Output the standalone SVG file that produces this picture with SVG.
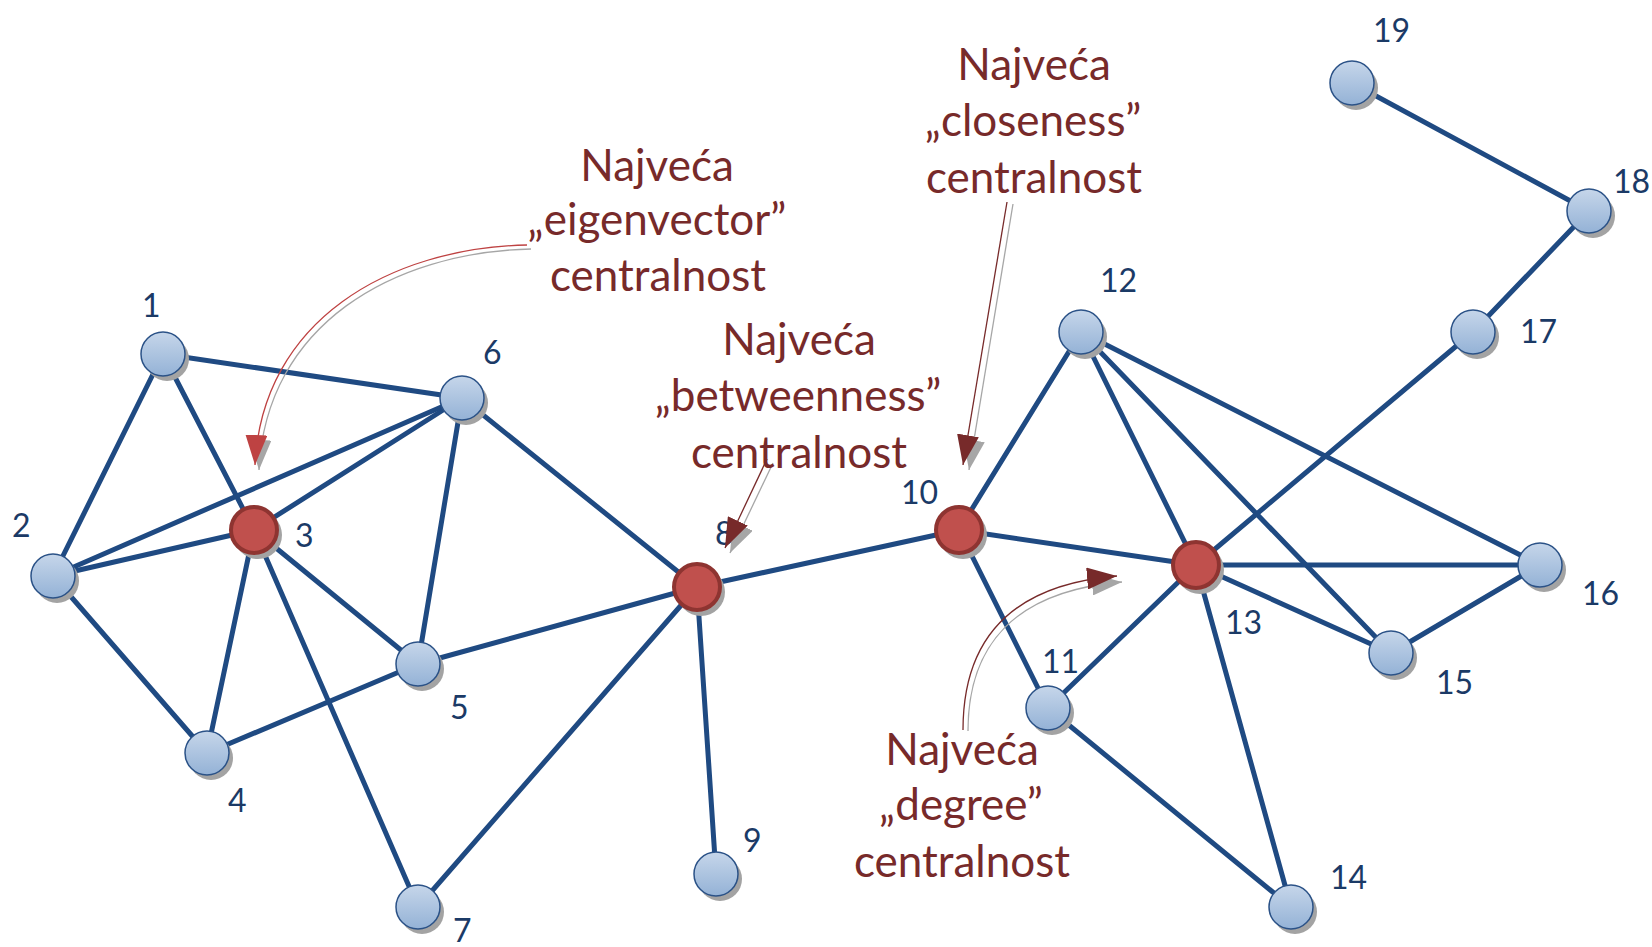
<svg xmlns="http://www.w3.org/2000/svg" width="1652" height="947" viewBox="0 0 1652 947">
<defs>
<linearGradient id="gBlue" x1="0" y1="0" x2="0" y2="1">
<stop offset="0" stop-color="#C6D6EA"/>
<stop offset="1" stop-color="#94B2D6"/>
</linearGradient>
<marker id="ahDark" viewBox="0 0 30 22" refX="30" refY="11" markerWidth="30" markerHeight="22" markerUnits="userSpaceOnUse" orient="auto"><path d="M0,0 L30,11 L0,22 Z" fill="#772A2A"/></marker>
<marker id="ahRed" viewBox="0 0 30 22" refX="30" refY="11" markerWidth="30" markerHeight="22" markerUnits="userSpaceOnUse" orient="auto"><path d="M0,0 L30,11 L0,22 Z" fill="#BE4242"/></marker>
<marker id="ahGrey" viewBox="0 0 30 22" refX="30" refY="11" markerWidth="30" markerHeight="22" markerUnits="userSpaceOnUse" orient="auto"><path d="M0,0 L30,11 L0,22 Z" fill="#A6A6A6"/></marker>
</defs>
<style>
.edge{stroke:#1F4A82;stroke-width:5;fill:none;stroke-linecap:round}
.shadow{fill:#A3A3A3}
.blue{fill:url(#gBlue);stroke:#2B5287;stroke-width:1.5}
.red{fill:#C0504D;stroke:#8E3431;stroke-width:4}
.num{font-family:Lato,"Liberation Sans",sans-serif;font-size:32px;fill:#1B3A66}
.ann{font-family:Lato,"Liberation Sans",sans-serif;font-size:44px;fill:#772A2A;text-anchor:middle}
.arr{fill:none;stroke-width:1.3}
.arrDark{stroke:#772A2A;marker-end:url(#ahDark)}
.arrRed{stroke:#BE4242;marker-end:url(#ahRed)}
.arrGrey{stroke:#A6A6A6;marker-end:url(#ahGrey)}
</style>
<rect width="1652" height="947" fill="#FFFFFF"/>
<g id="connectors">
<line class="edge" x1="163" y1="354" x2="462" y2="398"/>
<line class="edge" x1="163" y1="354" x2="53" y2="576"/>
<line class="edge" x1="163" y1="354" x2="254" y2="530"/>
<line class="edge" x1="53" y1="576" x2="462" y2="398"/>
<line class="edge" x1="53" y1="576" x2="254" y2="530"/>
<line class="edge" x1="53" y1="576" x2="207" y2="753"/>
<line class="edge" x1="254" y1="530" x2="462" y2="398"/>
<line class="edge" x1="254" y1="530" x2="207" y2="753"/>
<line class="edge" x1="254" y1="530" x2="418" y2="664"/>
<line class="edge" x1="254" y1="530" x2="418" y2="907"/>
<line class="edge" x1="462" y1="398" x2="418" y2="664"/>
<line class="edge" x1="462" y1="398" x2="697" y2="587"/>
<line class="edge" x1="418" y1="664" x2="207" y2="753"/>
<line class="edge" x1="418" y1="664" x2="697" y2="587"/>
<line class="edge" x1="418" y1="907" x2="697" y2="587"/>
<line class="edge" x1="697" y1="587" x2="716" y2="874"/>
<line class="edge" x1="697" y1="587" x2="959" y2="530"/>
<line class="edge" x1="959" y1="530" x2="1081" y2="332"/>
<line class="edge" x1="959" y1="530" x2="1196" y2="565"/>
<line class="edge" x1="959" y1="530" x2="1048" y2="708"/>
<line class="edge" x1="1081" y1="332" x2="1196" y2="565"/>
<line class="edge" x1="1081" y1="332" x2="1391" y2="653"/>
<line class="edge" x1="1081" y1="332" x2="1540" y2="565"/>
<line class="edge" x1="1196" y1="565" x2="1540" y2="565"/>
<line class="edge" x1="1196" y1="565" x2="1391" y2="653"/>
<line class="edge" x1="1196" y1="565" x2="1473" y2="332"/>
<line class="edge" x1="1196" y1="565" x2="1048" y2="708"/>
<line class="edge" x1="1196" y1="565" x2="1291" y2="907"/>
<line class="edge" x1="1048" y1="708" x2="1291" y2="907"/>
<line class="edge" x1="1391" y1="653" x2="1540" y2="565"/>
<line class="edge" x1="1473" y1="332" x2="1589" y2="211"/>
<line class="edge" x1="1589" y1="211" x2="1352" y2="83"/>
</g>
<g id="node1"><circle class="shadow" cx="167" cy="359" r="22"/><circle class="blue" cx="163" cy="354" r="22"/><text class="num" x="142" y="317">1</text></g>
<g id="node2"><circle class="shadow" cx="57" cy="581" r="22"/><circle class="blue" cx="53" cy="576" r="22"/><text class="num" x="12" y="537">2</text></g>
<g id="node3"><circle class="shadow" cx="258" cy="535" r="24"/><circle class="red" cx="254" cy="530" r="23"/><text class="num" x="295" y="547">3</text></g>
<g id="node4"><circle class="shadow" cx="211" cy="758" r="22"/><circle class="blue" cx="207" cy="753" r="22"/><text class="num" x="228" y="812">4</text></g>
<g id="node5"><circle class="shadow" cx="422" cy="669" r="22"/><circle class="blue" cx="418" cy="664" r="22"/><text class="num" x="450" y="719">5</text></g>
<g id="node6"><circle class="shadow" cx="466" cy="403" r="22"/><circle class="blue" cx="462" cy="398" r="22"/><text class="num" x="483" y="364">6</text></g>
<g id="node7"><circle class="shadow" cx="422" cy="912" r="22"/><circle class="blue" cx="418" cy="907" r="22"/><text class="num" x="453" y="942">7</text></g>
<g id="node8"><circle class="shadow" cx="701" cy="592" r="24"/><circle class="red" cx="697" cy="587" r="23"/><text class="num" x="715" y="545">8</text></g>
<g id="node9"><circle class="shadow" cx="720" cy="879" r="22"/><circle class="blue" cx="716" cy="874" r="22"/><text class="num" x="743" y="852">9</text></g>
<g id="node10"><circle class="shadow" cx="963" cy="535" r="24"/><circle class="red" cx="959" cy="530" r="23"/><text class="num" x="901" y="504">10</text></g>
<g id="node11"><circle class="shadow" cx="1052" cy="713" r="22"/><circle class="blue" cx="1048" cy="708" r="22"/><text class="num" x="1042" y="673">11</text></g>
<g id="node12"><circle class="shadow" cx="1085" cy="337" r="22"/><circle class="blue" cx="1081" cy="332" r="22"/><text class="num" x="1100" y="292">12</text></g>
<g id="node13"><circle class="shadow" cx="1200" cy="570" r="24"/><circle class="red" cx="1196" cy="565" r="23"/><text class="num" x="1225" y="634">13</text></g>
<g id="node14"><circle class="shadow" cx="1295" cy="912" r="22"/><circle class="blue" cx="1291" cy="907" r="22"/><text class="num" x="1330" y="889">14</text></g>
<g id="node15"><circle class="shadow" cx="1395" cy="658" r="22"/><circle class="blue" cx="1391" cy="653" r="22"/><text class="num" x="1436" y="694">15</text></g>
<g id="node16"><circle class="shadow" cx="1544" cy="570" r="22"/><circle class="blue" cx="1540" cy="565" r="22"/><text class="num" x="1582" y="605">16</text></g>
<g id="node17"><circle class="shadow" cx="1477" cy="337" r="22"/><circle class="blue" cx="1473" cy="332" r="22"/><text class="num" x="1520" y="343">17</text></g>
<g id="node18"><circle class="shadow" cx="1593" cy="216" r="22"/><circle class="blue" cx="1589" cy="211" r="22"/><text class="num" x="1613" y="193">18</text></g>
<g id="node19"><circle class="shadow" cx="1356" cy="88" r="22"/><circle class="blue" cx="1352" cy="83" r="22"/><text class="num" x="1373" y="42">19</text></g>
<g id="annotation-eigenvector">
<path class="arr arrGrey" d="M531,249 C394,252 266,324 259,470"/>
<path class="arr arrRed" d="M527,245 C390,248 262,320 255,465"/>
<text class="ann" x="657" y="181">Najveća</text>
<text class="ann" x="657" y="235">„eigenvector”</text>
<text class="ann" x="658" y="291">centralnost</text>
</g>
<g id="annotation-betweenness">
<path class="arr arrGrey" d="M773,463 L730,553"/>
<path class="arr arrDark" d="M767,459 L725,548"/>
<text class="ann" x="799" y="355">Najveća</text>
<text class="ann" x="798" y="411">„betweenness”</text>
<text class="ann" x="799" y="468">centralnost</text>
</g>
<g id="annotation-closeness">
<path class="arr arrGrey" d="M1013,204 L969,470"/>
<path class="arr arrDark" d="M1007,202 L963,465"/>
<text class="ann" x="1034" y="80">Najveća</text>
<text class="ann" x="1033" y="136">„closeness”</text>
<text class="ann" x="1034" y="193">centralnost</text>
</g>
<g id="annotation-degree">
<path class="arr arrGrey" d="M968,731 C968,646 1014,591 1122,582"/>
<path class="arr arrDark" d="M963,730 C963,640 1010,585 1117,576"/>
<text class="ann" x="962" y="765">Najveća</text>
<text class="ann" x="961" y="820">„degree”</text>
<text class="ann" x="962" y="877">centralnost</text>
</g>
</svg>
